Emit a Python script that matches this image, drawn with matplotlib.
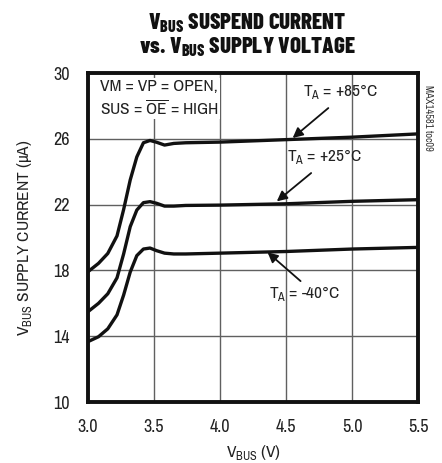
import matplotlib
matplotlib.use("Agg")
import matplotlib.pyplot as plt

# supply voltage (V) and suspend current (uA) for each temperature
v_bus = [3.0, 3.08, 3.15, 3.22, 3.27, 3.32, 3.37, 3.42, 3.47, 3.52, 3.58, 3.65, 3.74,
         4.0, 4.5, 5.0, 5.5]
i_85c = [17.92, 18.43, 19.03, 20.1, 21.7, 23.5, 24.9, 25.76, 25.9, 25.79, 25.62, 25.72, 25.76,
         25.8, 25.95, 26.1, 26.3]
i_25c = [15.49, 16.0, 16.58, 17.55, 19.0, 20.66, 21.67, 22.12, 22.18, 22.08, 21.91, 21.91, 21.95,
         21.97, 22.05, 22.2, 22.3]
i_m40c = [13.67, 13.97, 14.45, 15.3, 16.5, 17.9, 18.9, 19.3, 19.36, 19.2, 19.05, 19.0, 19.0,
          19.05, 19.15, 19.3, 19.4]

x_ticks = [3.0, 3.5, 4.0, 4.5, 5.0, 5.5]
y_ticks = [10, 14, 18, 22, 26, 30]

plt.rcParams['font.family'] = ['Archivo Narrow', 'DejaVu Sans']
plt.rcParams['mathtext.fontset'] = 'custom'
plt.rcParams['mathtext.rm'] = 'Archivo Narrow'

ink = "#222222"
fig = plt.figure(figsize=(4.42, 4.63), dpi=100)
ax = fig.add_axes([0.199, 0.1317, 0.747, 0.7106])

for i in (i_85c, i_25c, i_m40c):
    ax.plot(v_bus, i, color="#111111", lw=2.4, solid_joinstyle="round", solid_capstyle="round")

ax.set_xlim(3.0, 5.5)
ax.set_ylim(10, 30)
ax.set_xticks(x_ticks)
ax.set_yticks(y_ticks)
ax.set_xticklabels(["%.1f" % t for t in x_ticks])
ax.tick_params(length=0, labelsize=13, colors=ink)
ax.tick_params(axis="y", pad=13)
ax.tick_params(axis="x", pad=12)
ax.grid(True, color="#606060", lw=1.0)
for s in ax.spines.values():
    s.set_linewidth(2.8)
    s.set_color("#111111")

ax.set_xlabel(r"V$_\mathregular{BUS}$ (V)", fontsize=12.5, labelpad=6, color=ink)
ax.set_ylabel(r"V$_\mathregular{BUS}$ SUPPLY CURRENT ($\mathregular{\mu}$A)", fontsize=12.5,
              labelpad=14, color=ink)

title_font = dict(family=['Barlow Condensed', 'DejaVu Sans'], fontweight=800)
fig.text(0.56, 0.925, r"V$_\mathregular{BUS}$ SUSPEND CURRENT" "\n"
         r"vs. V$_\mathregular{BUS}$ SUPPLY VOLTAGE",
         ha="center", va="center", fontsize=16.5, linespacing=1.0, color="#111111", **title_font)

ax.text(3.09, 28.45, "VM = VP = OPEN,\n" r"SUS = $\overline{\mathregular{OE}}$ = HIGH",
        fontsize=12.5, va="center", ha="left", linespacing=1.3, color=ink,
        bbox=dict(fc="white", ec="none", pad=1))

arrow = dict(arrowstyle="-|>", color="#111111", lw=1.3, mutation_scale=15, shrinkA=0, shrinkB=0)
labels = [(r"T$_\mathregular{A}$ = +85°C", (4.91, 28.85), (4.82, 27.87), (4.55, 26.05)),
          (r"T$_\mathregular{A}$ = +25°C", (4.79, 24.95), (4.69, 23.92), (4.43, 22.2)),
          (r"T$_\mathregular{A}$ = -40°C", (4.64, 16.6), (4.61, 17.35), (4.36, 19.1))]
for text, pos, tail, head in labels:
    ax.text(pos[0], pos[1], text, fontsize=12.5, ha="center", va="center", color=ink)
    ax.annotate("", xy=head, xytext=tail, arrowprops=arrow)

fig.text(0.968, 0.745, "MAX14581 toc09", rotation=270, fontsize=7.5, ha="center", va="center",
         color="#333333")

fig.savefig("out.png", dpi=100)
